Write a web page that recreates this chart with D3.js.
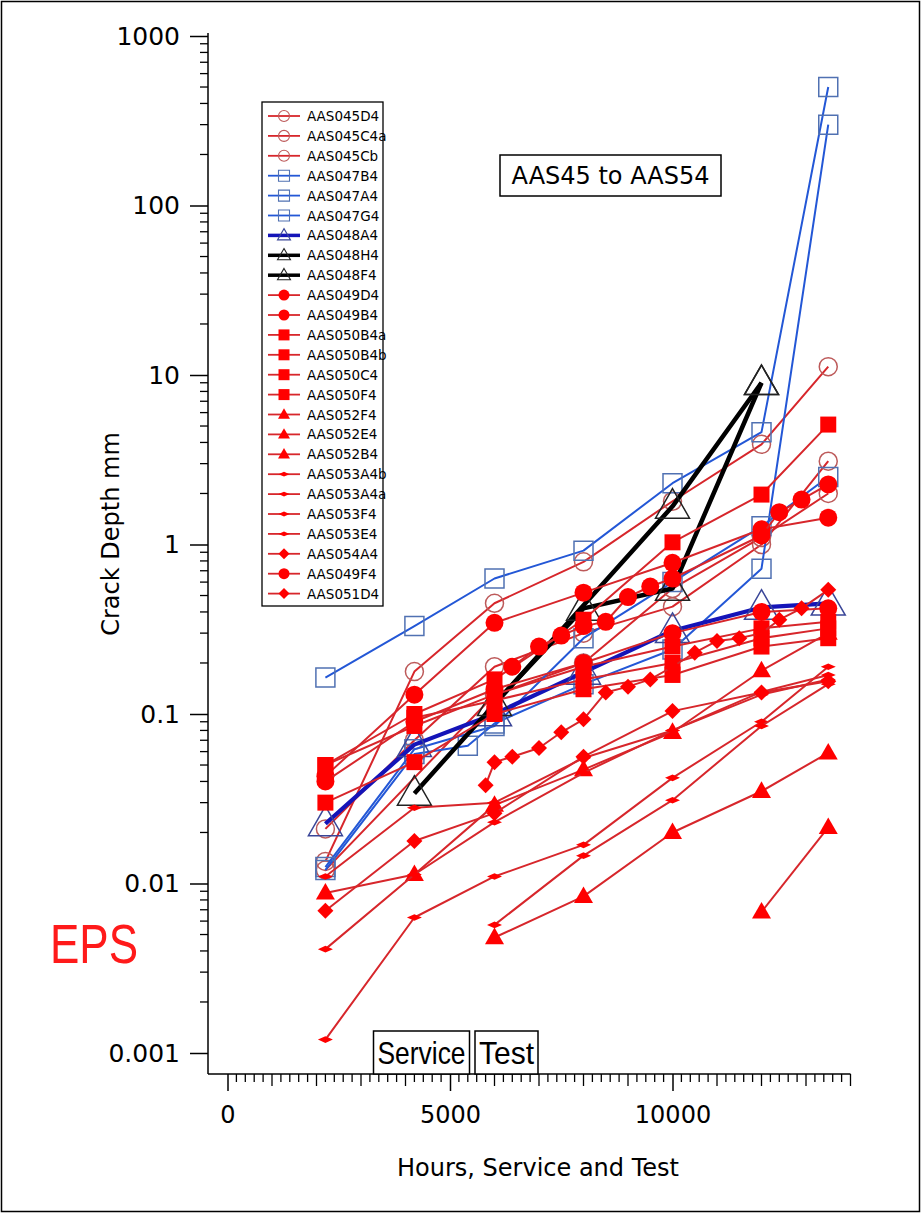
<!DOCTYPE html>
<html><head><meta charset="utf-8">
<script src="https://cdn.jsdelivr.net/npm/d3@7"></script>
<style>body{margin:0;background:#fff}svg{display:block}</style>
</head><body><svg id="c" width="923" height="1214"></svg>
<script>
// ---------------- DATA ----------------
const seriesNames = ["AAS045D4","AAS045C4a","AAS045Cb","AAS047B4","AAS047A4","AAS047G4","AAS048A4","AAS048H4","AAS048F4","AAS049D4","AAS049B4","AAS050B4a","AAS050B4b","AAS050C4","AAS050F4","AAS052F4","AAS052E4","AAS052B4","AAS053A4b","AAS053A4a","AAS053F4","AAS053E4","AAS054A4","AAS049F4","AAS051D4"];

const AAS045D4  = [[2200,0.0135],[4200,0.178],[6000,0.45],[8000,0.79],[10000,1.8],[12000,3.9],[13500,11.2]];
const AAS045C4a = [[2200,0.021],[4200,0.07],[6000,0.19],[8000,0.3],[10000,0.43],[12000,1.0],[13500,3.1]];
const AAS045Cb  = [[2200,0.012],[6000,0.13],[8000,0.2],[10000,0.55],[12000,1.1],[13500,2.0]];
const AAS047B4  = [[2200,0.164],[4200,0.33],[6000,0.63],[8000,0.92],[10000,2.3],[12000,4.6],[13500,500]];
const AAS047A4  = [[2200,0.012],[4200,0.058],[5400,0.065],[6000,0.088],[8000,0.15],[10000,0.24],[12000,0.72],[13500,300]];
const AAS047G4  = [[2200,0.0125],[4200,0.062],[6000,0.085],[8000,0.28],[10000,0.6],[12000,1.28],[13500,2.5]];
const AAS048A4  = [[2200,0.0225],[4200,0.066],[6000,0.10],[8000,0.176],[10000,0.31],[12000,0.425],[13500,0.45]];
const AAS048H4  = [[4200,0.034],[10000,1.68],[12000,9.0]];
const AAS048F4  = [[6000,0.115],[8000,0.42],[10000,0.55],[12000,9.0]];
const AAS049D4  = [[2200,0.043],[4200,0.13],[6000,0.345],[8000,0.52],[10000,0.78],[12000,1.23],[13500,1.44]];
const AAS049B4  = [[2200,0.04],[4200,0.09],[6000,0.14],[8000,0.2],[10000,0.3],[12000,0.4],[13500,0.42]];
const AAS050B4a = [[2200,0.05],[4200,0.1],[6000,0.16],[8000,0.36],[10000,1.03],[12000,1.97],[13500,5.1]];
const AAS050B4b = [[2200,0.03],[4200,0.052],[6000,0.1],[8000,0.14],[10000,0.17],[12000,0.25],[13500,0.28]];
const AAS050C4  = [[2200,0.05],[4200,0.085],[6000,0.13],[8000,0.19],[10000,0.25],[12000,0.32],[13500,0.35]];
const AAS050F4  = [[4200,0.095],[6000,0.12],[8000,0.16],[10000,0.2],[12000,0.28],[13500,0.32]];
const AAS052F4  = [[2200,0.0088],[4200,0.0113],[6000,0.029],[8000,0.047],[10000,0.078],[12000,0.18],[13500,0.3]];
const AAS052E4  = [[6000,0.0048],[8000,0.0084],[10000,0.02],[12000,0.035],[13500,0.059]];
const AAS052B4  = [[12000,0.0068],[13500,0.0214]];
const AAS053A4b = [[2200,0.0012],[4200,0.0063],[6000,0.011],[8000,0.0169],[10000,0.042],[12000,0.09],[13500,0.19]];
const AAS053A4a = [[6000,0.0057],[8000,0.0146],[10000,0.031],[12000,0.085],[13500,0.15]];
const AAS053F4  = [[2200,0.0041],[4200,0.0113],[6000,0.023],[8000,0.045],[10000,0.08],[12000,0.13],[13500,0.16]];
const AAS053E4  = [[2200,0.011],[4200,0.028],[6000,0.03],[8000,0.055],[10000,0.08],[12000,0.135],[13500,0.17]];
const AAS054A4  = [[2200,0.0069],[4200,0.0178],[6000,0.026],[8000,0.056],[10000,0.104],[12000,0.134],[13500,0.156]];
const AAS049F4  = [[6400,0.19],[7000,0.25],[7500,0.29],[8000,0.33],[8500,0.35],[9000,0.49],[9500,0.565],[10000,0.63],[12000,1.13],[12400,1.55],[12900,1.84],[13500,2.26]];
const AAS051D4  = [[5800,0.038],[6000,0.052],[6400,0.056],[7000,0.063],[7500,0.078],[8000,0.093],[8500,0.134],[9000,0.145],[9500,0.16],[10000,0.19],[10500,0.23],[11000,0.27],[11500,0.28],[12000,0.3],[12400,0.36],[12900,0.42],[13500,0.54]];

const seriesData = {AAS045D4,AAS045C4a,AAS045Cb,AAS047B4,AAS047A4,AAS047G4,AAS048A4,AAS048H4,AAS048F4,AAS049D4,AAS049B4,AAS050B4a,AAS050B4b,AAS050C4,AAS050F4,AAS052F4,AAS052E4,AAS052B4,AAS053A4b,AAS053A4a,AAS053F4,AAS053E4,AAS054A4,AAS049F4,AAS051D4};

const yTickValues = [0.001,0.01,0.1,1,10,100,1000];
const yTickLabels = ["0.001","0.01","0.1","1","10","100","1000"];
const xTickValues = [0,5000,10000];
const xTickLabels = ["0","5000","10000"];
const chartTitle = "AAS45 to AAS54";
const yTitle = "Crack Depth mm";
const xTitle = "Hours, Service and Test";

// ---------------- STYLES ----------------
const RED_LINE = "#d7262b", RED_FILL = "#ff0000";
function styleOf(name){
  if (name.startsWith("AAS045")) return {line:RED_LINE,w:2,m:"circle",fill:"none",stroke:"#bd5a5a",size:18};
  if (name.startsWith("AAS047")) return {line:"#2357d6",w:2,m:"square",fill:"none",stroke:"#5071b2",size:19};
  if (name==="AAS048A4") return {line:"#1414b8",w:4.2,m:"triangle",fill:"none",stroke:"#3a4698",size:34};
  if (name.startsWith("AAS048")) return {line:"#000",w:4.5,m:"triangle",fill:"none",stroke:"#222",size:34};
  if (name.startsWith("AAS049")) return {line:RED_LINE,w:2,m:"circle",fill:RED_FILL,stroke:"none",size:18};
  if (name.startsWith("AAS050")) return {line:RED_LINE,w:2,m:"square",fill:RED_FILL,stroke:"none",size:16};
  if (name.startsWith("AAS052")) return {line:RED_LINE,w:2,m:"triangle",fill:RED_FILL,stroke:"none",size:19};
  if (name.startsWith("AAS053")) return {line:RED_LINE,w:2,m:"flat",fill:RED_FILL,stroke:"none",size:15};
  return {line:RED_LINE,w:2,m:"diamond",fill:RED_FILL,stroke:"none",size:16};
}
function markerPath(type, s){
  const h = s/2;
  switch(type){
    case "circle": return `M${-h},0A${h},${h} 0 1,0 ${h},0A${h},${h} 0 1,0 ${-h},0Z`;
    case "square": return `M${-h},${-h}H${h}V${h}H${-h}Z`;
    case "triangle": { const th = s*0.87; return `M0,${-th*0.6}L${h},${th*0.4}L${-h},${th*0.4}Z`; }
    case "diamond": return `M0,${-h}L${h},0L0,${h}L${-h},0Z`;
    case "flat": return `M0,${-s*0.22}L${h},0L0,${s*0.22}L${-h},0Z`;
  }
}

// ---------------- CHART ----------------
const svg = d3.select("#c");
svg.append("rect").attr("x",1.5).attr("y",1.5).attr("width",918).attr("height",1210)
  .attr("fill","#fff").attr("stroke","#000").attr("stroke-width",1.5);

const x = d3.scaleLinear().domain([0,10000]).range([227.5,672.5]);
const y = d3.scaleLog().domain([0.001,1000]).range([1053,36]);
const axisX0 = 208, axisY0 = 1074, xEnd = 14000;
const FONT = "'DejaVu Sans', Verdana, sans-serif";

// Y axis
svg.append("line").attr("x1",axisX0).attr("x2",axisX0).attr("y1",33).attr("y2",axisY0)
  .attr("stroke","#000").attr("stroke-width",1.5);
const minorY = [];
for (let e=-3;e<3;e++) for (let k=2;k<10;k++) minorY.push(k*Math.pow(10,e));
svg.append("g").selectAll("line").data(minorY).join("line")
  .attr("x1",axisX0-8).attr("x2",axisX0).attr("y1",d=>y(d)).attr("y2",d=>y(d))
  .attr("stroke","#000").attr("stroke-width",1.3);
const gy = svg.append("g").attr("transform",`translate(${axisX0},0)`)
  .call(d3.axisLeft(y).tickValues(yTickValues).tickSize(18).tickPadding(10)
    .tickFormat((d,i)=>yTickLabels[i]));
gy.select(".domain").remove();
gy.selectAll(".tick line").attr("stroke-width",1.5);
gy.selectAll("text").attr("font-family",FONT).attr("font-size",25).attr("fill","#000");

// X axis
svg.append("line").attr("x1",axisX0).attr("x2",x(xEnd)).attr("y1",axisY0).attr("y2",axisY0)
  .attr("stroke","#000").attr("stroke-width",1.5);
const minorX = d3.range(0,xEnd+1,200).filter(v=>v%5000!==0);
svg.append("g").selectAll("line").data(minorX).join("line")
  .attr("x1",d=>x(d)).attr("x2",d=>x(d)).attr("y1",axisY0)
  .attr("y2",d=>axisY0 + (d%1000===0?12:8))
  .attr("stroke","#000").attr("stroke-width",1.3);
const gx = svg.append("g").attr("transform",`translate(0,${axisY0})`)
  .call(d3.axisBottom(x).tickValues(xTickValues).tickSize(17).tickPadding(15)
    .tickFormat((d,i)=>xTickLabels[i]));
gx.select(".domain").remove();
gx.selectAll(".tick line").attr("stroke-width",1.5);
gx.selectAll("text").attr("font-family",FONT).attr("font-size",24).attr("fill","#000");

// Axis titles
svg.append("text").attr("transform","translate(119,534) rotate(-90)")
  .attr("text-anchor","middle").attr("font-family",FONT).attr("font-size",24).text(yTitle);
svg.append("text").attr("x",538).attr("y",1176).attr("text-anchor","middle")
  .attr("font-family",FONT).attr("font-size",24).text(xTitle);

// Service / Test boxes
const NARROW = "'Liberation Sans Narrow','Arial Narrow','Liberation Sans',sans-serif";
[["Service",373.5,469.5],["Test",475,538]].forEach(([t,a,b])=>{
  svg.append("rect").attr("x",a).attr("y",1031).attr("width",b-a).attr("height",43)
    .attr("fill","#fff").attr("stroke","#000").attr("stroke-width",1.5);
  svg.append("text").attr("x",(a+b)/2).attr("y",1064).attr("text-anchor","middle")
    .attr("font-family",NARROW).attr("font-size",32)
    .attr("textLength",b-a-8).attr("lengthAdjust","spacingAndGlyphs").text(t);
});

// EPS
svg.append("text").attr("x",50).attr("y",963).attr("font-family",NARROW).attr("font-size",56)
  .attr("fill","#ff1a1a").attr("textLength",88).attr("lengthAdjust","spacingAndGlyphs").text("EPS");

// Series
const line = d3.line().x(d=>x(d[0])).y(d=>y(d[1]));
const plot = svg.append("g");
seriesNames.forEach(name=>{
  const st = styleOf(name), data = seriesData[name];
  const g = plot.append("g");
  g.append("path").datum(data).attr("d",line).attr("fill","none")
    .attr("stroke",st.line).attr("stroke-width",st.w).attr("stroke-linejoin","round");
  g.selectAll("path.m").data(data).join("path").attr("class","m")
    .attr("transform",d=>`translate(${x(d[0])},${y(d[1])})`)
    .attr("d",markerPath(st.m,st.size))
    .attr("fill",st.fill).attr("stroke",st.stroke).attr("stroke-width",1.5);
});

// Chart title box
svg.append("rect").attr("x",500).attr("y",155).attr("width",221).attr("height",41)
  .attr("fill","#fff").attr("stroke","#000").attr("stroke-width",1.5);
svg.append("text").attr("x",610.5).attr("y",184).attr("text-anchor","middle")
  .attr("font-family",FONT).attr("font-size",24).text(chartTitle);

// Legend
const lg = svg.append("g");
lg.append("rect").attr("x",262).attr("y",102).attr("width",121).attr("height",504)
  .attr("fill","#fff").attr("stroke","#000").attr("stroke-width",1.3);
seriesNames.forEach((name,i)=>{
  const st = styleOf(name), cy = 116 + i*19.9;
  lg.append("line").attr("x1",268).attr("x2",300).attr("y1",cy).attr("y2",cy)
    .attr("stroke",st.line).attr("stroke-width",st.w>3?3.5:1.8);
  const ms = st.m==="triangle" ? (st.size>30?13:12) : st.m==="flat" ? 11 : 11;
  lg.append("path").attr("transform",`translate(284,${cy})`).attr("d",markerPath(st.m,ms))
    .attr("fill",st.fill).attr("stroke",st.stroke).attr("stroke-width",1.1);
  lg.append("text").attr("x",307).attr("y",cy+5).attr("font-family",FONT)
    .attr("font-size",13.5).text(name);
});
</script></body></html>
